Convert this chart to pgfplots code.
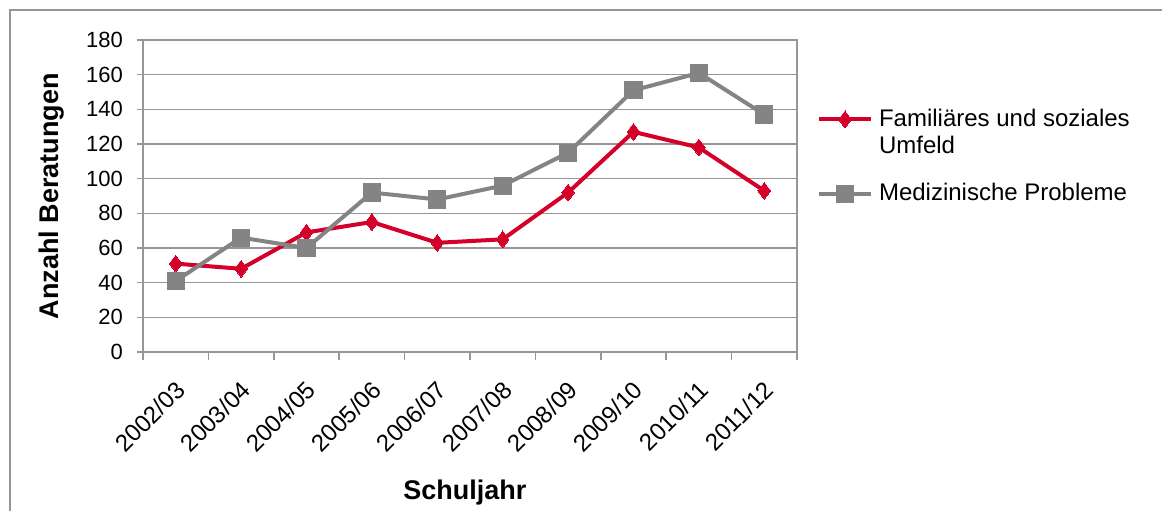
\documentclass[border=0pt]{standalone}
\usepackage{pgfplots}
\pgfplotsset{compat=1.18}
\usepackage{fontspec}
\setmainfont{Liberation Sans}
\definecolor{cred}{RGB}{212,0,42}
\definecolor{cgray}{RGB}{132,132,132}
\definecolor{gridgray}{RGB}{150,150,150}
\begin{document}
\begin{tikzpicture}
\useasboundingbox (0,0) rectangle (581pt,255.5pt);
\draw[gridgray, line width=0.8pt] (5pt,0) -- (5pt,250.5pt) -- (581pt,250.5pt);
\begin{axis}[
  at={(71.5pt,79.5pt)}, anchor=south west,
  scale only axis, width=327pt, height=156pt,
  xmin=-0.5, xmax=9.5, ymin=0, ymax=180,
  ytick={0,20,...,180},
  xtick={0,...,9},
  xticklabels={2002/03,2003/04,2004/05,2005/06,2006/07,2007/08,2008/09,2009/10,2010/11,2011/12},
  minor xtick={-0.5,0.5,...,9.5},
  tick pos=left,
  major x tick style={draw=none},
  minor x tick style={gridgray, line width=0.8pt},
  y tick style={gridgray, line width=0.8pt},
  tick align=outside,
  major tick length=3pt, minor tick length=4pt,
  ymajorgrids, grid style={gridgray, line width=0.8pt},
  axis line style={gridgray, line width=0.8pt},
  /pgf/number format/assume math mode=true,
  tick label style={font=\fontsize{11}{13}\selectfont, black},
  y tick label style={xshift=-3.5pt},
  x tick label style={font=\fontsize{12}{14}\selectfont, rotate=45, anchor=north east, inner sep=0pt, yshift=-7pt, xshift=-8pt},
  xlabel={\textbf{Schuljahr}}, ylabel={\textbf{Anzahl Beratungen}},
  label style={font=\fontsize{13.5}{15}\selectfont},
  xlabel style={at={(axis description cs:0.492,-0.449)}, anchor=center},
  ylabel style={at={(axis description cs:-0.14,0.5)}, anchor=center, rotate=0},
  legend style={at={(axis description cs:1.03,0.786)}, anchor=north west, draw=none,
    font=\fontsize{12}{13.5}\selectfont, row sep=11.5pt, inner sep=0pt, column sep=2pt,
    nodes={inner sep=1pt, align=left}},
  legend cell align=left,
  legend image code/.code={\draw[#1] (0pt,0pt) -- (26pt,0pt); \draw[#1, mark repeat=2, mark phase=2] plot coordinates {(0pt,0pt) (13pt,0pt) (26pt,0pt)};},
]
\addplot[cred, line width=2pt, mark=diamond*, mark size=4.2pt, mark options={solid, fill=cred, line width=0pt},
  legend image post style={yshift=6.75pt}]
 coordinates {(0,51) (1,48) (2,69) (3,75) (4,63) (5,65) (6,92) (7,127) (8,118) (9,93)};
\addlegendentry{Familiäres und soziales\\Umfeld}
\addplot[cgray, line width=2pt, mark=square*, mark size=4.3pt, mark options={solid, fill=cgray, line width=0pt}]
 coordinates {(0,41) (1,66) (2,60) (3,92) (4,88) (5,96) (6,115) (7,151) (8,161) (9,137)};
\addlegendentry{Medizinische Probleme}
\end{axis}
\end{tikzpicture}
\end{document}
